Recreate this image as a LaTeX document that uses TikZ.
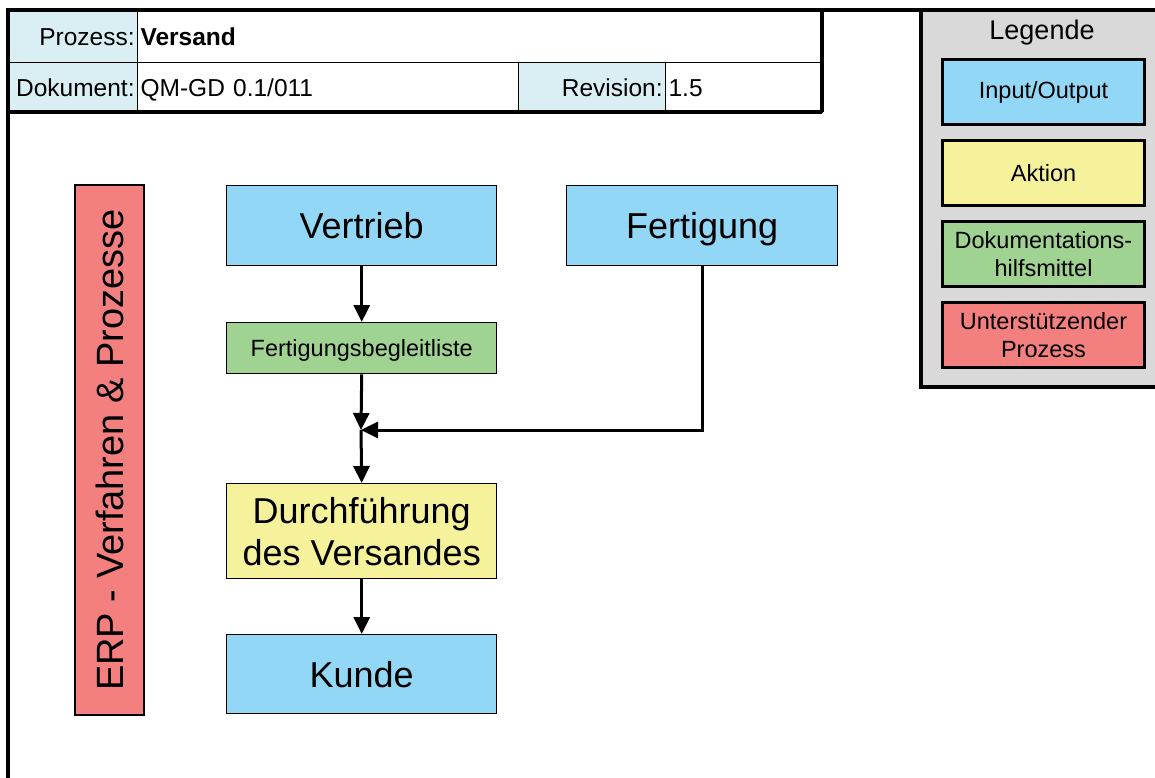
\documentclass[tikz,border=0pt]{standalone}
\usepackage{fontspec}
\setmainfont{Liberation Sans}
\usetikzlibrary{arrows.meta}
\definecolor{iocol}{RGB}{146,215,245}
\definecolor{actcol}{RGB}{245,242,155}
\definecolor{doccol}{RGB}{160,210,145}
\definecolor{supcol}{RGB}{244,127,127}
\definecolor{hdrcol}{RGB}{218,239,243}
\definecolor{legcol}{RGB}{217,217,217}
\begin{document}
\begin{tikzpicture}[x=1pt,y=-1pt,
  cell/.style={draw=black, line width=1.2pt, anchor=north west, inner sep=3pt,
    font=\fontsize{24.5}{28}\selectfont, text height=20pt, text depth=2.5pt},
  labelcell/.style={cell, fill=hdrcol, align=right},
  valuecell/.style={cell, fill=white, align=left},
  box/.style={draw=black, line width=1.4pt, anchor=north west, inner sep=0pt,
    align=center, minimum width=270pt},
  bigtext/.style={font=\fontsize{36}{42}\selectfont},
  oneline/.style={bigtext, text height=30pt, text depth=4.2pt},
  legitem/.style={draw=black, line width=3pt, anchor=north west, inner sep=0pt,
    align=center, minimum width=202pt, minimum height=65pt,
    font=\fontsize{23.5}{28}\selectfont},
  frame/.style={line width=3.5pt},
  arr/.style={line width=3pt, -{Triangle[length=17pt,width=16pt]}}
]
\useasboundingbox (0,0) rectangle (1155,778);

% legend panel
\fill[legcol] (921,10) rectangle (1160,387);
\draw[frame] (921,10) -- (921,387) -- (1160,387);
\node[font=\fontsize{27}{30}\selectfont] (legtitle) at (1042,33) {Legende};
\node[legitem, fill=iocol]  (legio)  at (941,58)  {Input/Output};
\node[legitem, fill=actcol] (legact) at (941,139) {Aktion};
\node[legitem, fill=doccol] (legdoc) at (941,220) {Dokumentations-\\hilfsmittel};
\node[legitem, fill=supcol] (legsup) at (941,301) {Unterstützender\\Prozess};

% header table
\node[labelcell, text width=123pt, minimum height=52pt] (hproc) at (8,10) {Prozess:};
\node[valuecell, text width=679pt, minimum height=52pt] (hprocv) at (137,10) {\textbf{Versand}};
\node[labelcell, text width=123pt, minimum height=50pt] (hdoc) at (8,62) {Dokument:};
\node[valuecell, text width=375pt, minimum height=50pt] (hdocv) at (137,62) {QM-GD 0.1/011};
\node[labelcell, text width=141pt, minimum height=50pt] (hrev) at (518,62) {Revision:};
\node[valuecell, text width=151pt, minimum height=50pt] (hrevv) at (665,62) {1.5};

% page frame
\draw[frame] (8,780) -- (8,10) -- (1160,10);
\draw[frame] (8,112) -- (822,112);
\draw[frame] (822,10) -- (822,112);

% supporting process
\node[draw=black, line width=1.4pt, fill=supcol, rotate=90, minimum width=530pt,
  minimum height=69pt, inner sep=0pt, font=\fontsize{38}{42}\selectfont]
  (erp) at (109.5,450) {ERP - Verfahren \& Prozesse};

% process flow
\node[box, fill=iocol, minimum height=80pt, oneline] (vertrieb) at (226,185) {Vertrieb};
\node[box, fill=iocol, minimum width=271pt, minimum height=80pt, oneline] (fertigung) at (566,185) {Fertigung};
\node[box, fill=doccol, minimum height=51pt, font=\fontsize{23.5}{28}\selectfont,
  text height=17pt, text depth=0pt] (fbl) at (226,322) {Fertigungsbegleitliste};
\node[box, fill=actcol, minimum height=95pt, bigtext] (durch) at (226,483) {Durchführung\\des Versandes};
\node[box, fill=iocol, minimum height=79pt, oneline] (kunde) at (226,634) {Kunde};

\coordinate (join) at (361,430);
\draw[arr] (vertrieb.south) -- (fbl.north);
\draw[arr] (fbl.south) -- (join);
\draw[arr] (fertigung.south) |- (join);
\draw[arr] (join) -- (durch.north);
\draw[arr] (durch.south) -- (kunde.north);
\end{tikzpicture}
\end{document}
